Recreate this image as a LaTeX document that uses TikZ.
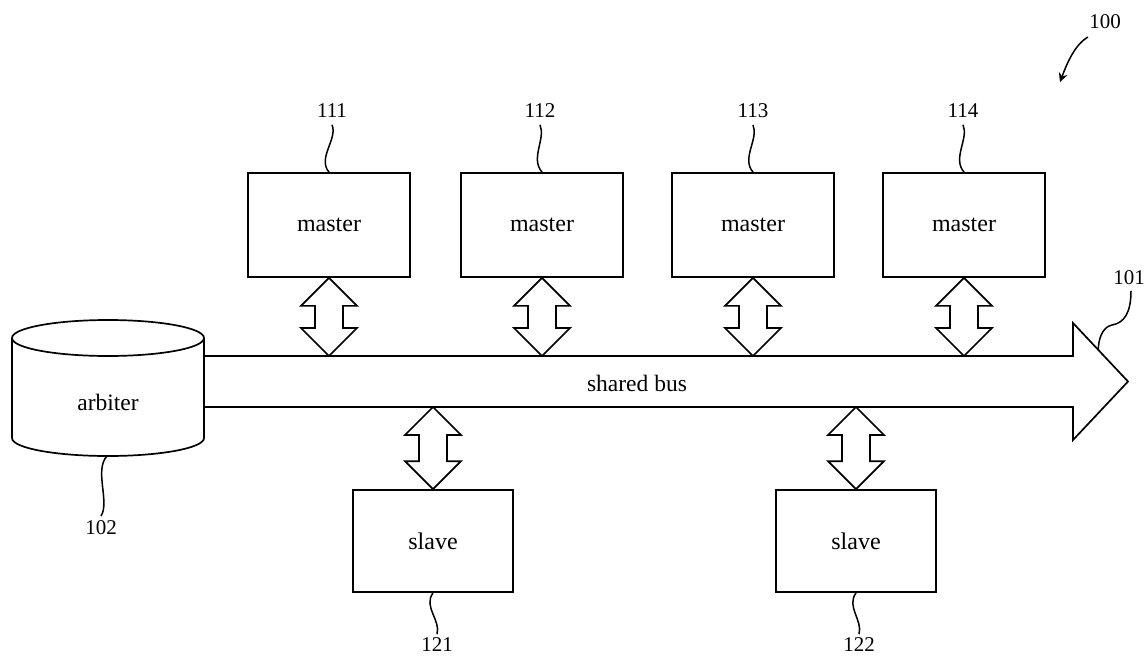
\documentclass[tikz,border=0pt]{standalone}
\usepackage{fontspec}
\setmainfont{Liberation Serif}
\usetikzlibrary{calc,arrows.meta}

% double-headed block arrow between two points on one vertical line
\newcommand\linkarrow[2]{%
  \path[biarrow] let \p1=(#1), \p2=(#2) in
    (\x1,\y1) -- ({\x1+28pt},{\y1-28pt}) -- ({\x1+14pt},{\y1-28pt})
    -- ({\x1+14pt},{\y2+28pt}) -- ({\x1+28pt},{\y2+28pt}) -- (\x1,\y2)
    -- ({\x1-28pt},{\y2+28pt}) -- ({\x1-14pt},{\y2+28pt})
    -- ({\x1-14pt},{\y1-28pt}) -- ({\x1-28pt},{\y1-28pt}) -- cycle;}

\begin{document}
\begin{tikzpicture}[x=1pt,y=1pt,
  line width=1.7pt, line join=miter,
  unit/.style={draw, line width=1.7pt, minimum width=162pt, minimum height=104pt,
    inner sep=0pt, font=\fontsize{24}{27}\selectfont},
  slavebox/.style={unit, minimum width=160pt, minimum height=102pt},
  label/.style={inner sep=0pt, font=\fontsize{23.5}{26}\selectfont},
  refnum/.style={inner sep=1pt, font=\fontsize{21}{24}\selectfont},
  leader/.style={draw, line width=1.5pt},
  biarrow/.style={draw, line width=1.7pt, fill=white},
]
\useasboundingbox (0,0) rectangle (1148,-664);

% masters
\node[unit] (m1) at (329,-225) {master};
\node[unit] (m2) at (542,-225) {master};
\node[unit] (m3) at (753,-225) {master};
\node[unit] (m4) at (964,-225) {master};

% slaves
\node[slavebox] (s1) at (433,-541) {slave};
\node[slavebox] (s2) at (856,-541) {slave};

% arbiter cylinder
\draw (12,-338) -- (12,-438)
  arc[start angle=180, end angle=360, x radius=96, y radius=18] -- (204,-338);
\draw (108,-338) ellipse[x radius=96, y radius=18];
\node[label] (arb) at (108,-402) {arbiter};
\coordinate (arbBot) at (107,-456);

% shared bus
\coordinate (busT) at (204,-356);
\coordinate (busB) at (204,-407);
\coordinate (headTop) at (1073,-323);
\coordinate (tip) at (1128,-381.5);
\coordinate (headBot) at (1073,-440);
\draw (busT) -- (busT -| headTop) -- (headTop) -- (tip) -- (headBot)
  -- (busB -| headBot) -- (busB);
\node[label] (busname) at (637,-383) {shared bus};

% links between units and bus
\linkarrow{m1.south}{m1.south |- busT}
\linkarrow{m2.south}{m2.south |- busT}
\linkarrow{m3.south}{m3.south |- busT}
\linkarrow{m4.south}{m4.south |- busT}
\linkarrow{s1.north |- busB}{s1.north}
\linkarrow{s2.north |- busB}{s2.north}

% reference numerals
\node[refnum] (n111) at (332,-111) {111};
\node[refnum] (n112) at (540,-111) {112};
\node[refnum] (n113) at (753,-111) {113};
\node[refnum] (n114) at (963,-111) {114};
\node[refnum] (n121) at (437,-645) {121};
\node[refnum] (n122) at (859,-645) {122};
\node[refnum] (n102) at (101,-528) {102};
\node[refnum] (n101) at (1129,-278) {101};
\node[refnum] (n100) at (1105,-22) {100};

\draw[leader] (m1.north) .. controls +(-12,14) and +(6,-14) .. ([yshift=-5pt]n111.south);
\draw[leader] (m2.north) .. controls +(-12,14) and +(6,-14) .. ([yshift=-5pt]n112.south);
\draw[leader] (m3.north) .. controls +(-12,14) and +(6,-14) .. ([yshift=-5pt]n113.south);
\draw[leader] (m4.north) .. controls +(-12,14) and +(6,-14) .. ([yshift=-5pt]n114.south);
\draw[leader] (s1.south) .. controls +(-10,-14) and +(4,14) .. ([yshift=2pt]n121.north);
\draw[leader] (s2.south) .. controls +(-10,-14) and +(4,14) .. ([yshift=2pt]n122.north);
\draw[leader] (arbBot) .. controls +(-13,-14) and +(9,14) .. ([yshift=3pt]n102.north);

\coordinate (hd) at ($(headTop)!0.46!(tip)$);
\coordinate (curl) at (1112,-325);
\draw[leader] ([xshift=2pt,yshift=-4pt]n101.south) .. controls +(0,-22) and +(12,2) .. (curl)
  .. controls +(-10,-2) and +(0,10) .. (hd);

\coordinate (sys) at (1060,-82);
\draw[leader, -{Stealth[length=9pt, width=9pt]}]
  (1088,-37) .. controls +(-14,-8) and +(6,16) .. (sys);
\end{tikzpicture}
\end{document}
